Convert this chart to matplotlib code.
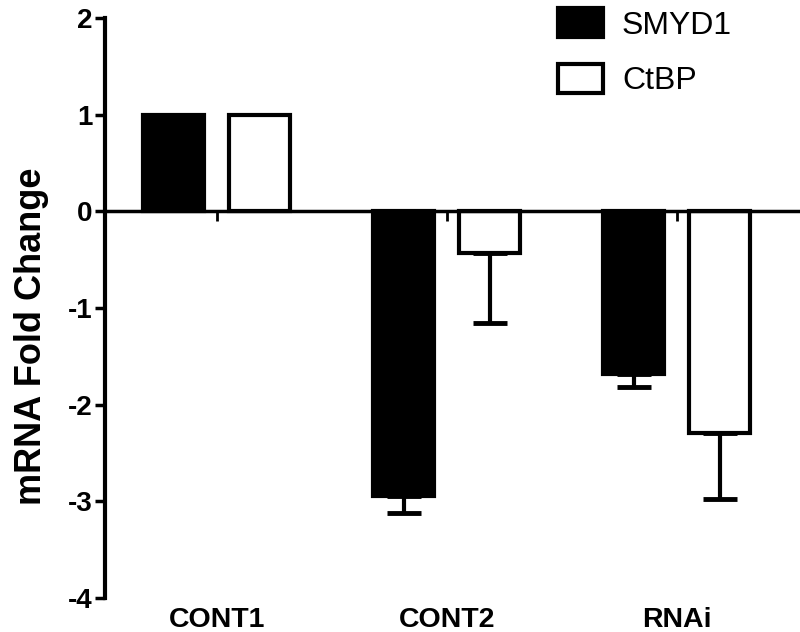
import numpy as np
import matplotlib
matplotlib.use("Agg")
import matplotlib.pyplot as plt

plt.rcParams['font.family'] = ['Liberation Sans', 'DejaVu Sans']

# Data
groups = ["CONT1", "CONT2", "RNAi"]
smyd1 = [1.0, -2.94, -1.68]
smyd1_err = [0.0, 0.18, 0.14]
ctbp = [1.0, -0.43, -2.29]
ctbp_err = [0.0, 0.72, 0.69]


def draw_series(ax, x, vals, errs, face, label):
    ax.bar(x, vals, width=0.265, color=face, edgecolor="black",
           linewidth=3, label=label, zorder=3)
    # error bars only point away from zero
    lower = [e if v < 0 else 0 for v, e in zip(vals, errs)]
    upper = [e if v >= 0 else 0 for v, e in zip(vals, errs)]
    mask = [e > 0 for e in errs]
    xs = np.asarray(x)[mask]
    ys = np.asarray(vals)[mask]
    lo = np.asarray(lower)[mask]
    up = np.asarray(upper)[mask]
    ax.errorbar(xs, ys, yerr=[lo, up], fmt="none", ecolor="black",
                elinewidth=3, capsize=12.5, capthick=3.5, zorder=4)


def main():
    fig = plt.figure(figsize=(8, 6.32), dpi=100)
    ax = fig.add_axes([0.131, 0.0538, 0.869, 0.9177])

    x = np.arange(len(groups))
    off = 0.187
    draw_series(ax, x - off, smyd1, smyd1_err, "black", "SMYD1")
    draw_series(ax, x + off, ctbp, ctbp_err, "white", "CtBP")

    ax.set_xlim(-0.487, 2.535)
    ax.set_ylim(-4, 2)
    ax.set_yticks([-4, -3, -2, -1, 0, 1, 2])
    ax.set_yticklabels(["-4", "-3", "-2", "-1", "0", "1", "2"],
                       fontsize=20, fontweight="bold")

    for side in ["top", "right"]:
        ax.spines[side].set_visible(False)
    ax.spines["left"].set_linewidth(3)
    ax.spines["bottom"].set_position(("data", 0))
    ax.spines["bottom"].set_linewidth(2.5)
    ax.spines["bottom"].set_zorder(5)

    ax.tick_params(axis="y", direction="out", length=7, width=2.5, pad=2)
    ax.set_xticks(x)
    ax.tick_params(axis="x", direction="out", length=7, width=2,
                   labelbottom=False)

    for xi, name in zip(x, groups):
        ax.text(xi, -0.016, name, transform=ax.get_xaxis_transform(),
                ha="center", va="top", fontsize=20.5, fontweight="bold")

    ax.text(-0.106, 0.452, "mRNA Fold Change", transform=ax.transAxes,
            rotation=90, ha="center", va="center", fontsize=26,
            fontweight="bold")

    leg = ax.legend(loc="upper left", bbox_to_anchor=(0.6975, 0.987),
                    bbox_transform=fig.transFigure, frameon=False,
                    fontsize=23, handlelength=1.4, handleheight=1.03,
                    handletextpad=0.6, labelspacing=0.72,
                    borderpad=0, borderaxespad=0)
    for h in leg.legend_handles:
        h.set_linewidth(3)

    fig.savefig("out.png", dpi=100)


if __name__ == "__main__":
    main()
